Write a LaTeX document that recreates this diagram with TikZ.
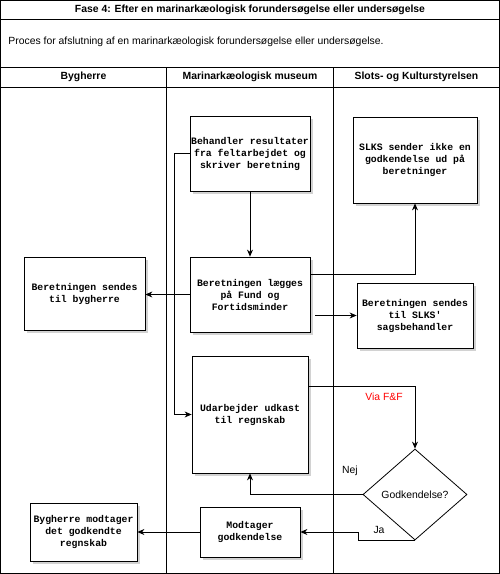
\documentclass[tikz,border=0pt]{standalone}
\usepackage{fontspec}
\setmainfont{Liberation Sans}
\newfontfamily\boxfont{Liberation Mono}
\usetikzlibrary{shapes.geometric,shadows,arrows.meta}

\begin{document}
\begin{tikzpicture}[x=1pt,y=-1pt,line width=0.8pt,
	box/.style={draw=black,fill=white,align=center,inner sep=0pt,
		font=\boxfont\bfseries\fontsize{9.8}{12}\selectfont,
		drop shadow={shadow xshift=2.5pt,shadow yshift=-2.5pt,fill=black!35}},
	pil/.style={-{Stealth[length=7pt,width=6pt]}},
	lbl/.style={inner sep=0pt,font=\fontsize{10.4}{12}\selectfont},
	head/.style={inner sep=0pt,font=\bfseries\fontsize{10.4}{12}\selectfont}]
	\useasboundingbox (0,0) rectangle (500,574);
	% swimlanes
	\draw [black] (0.5,0.5) rectangle (499.5,573.5);
	\draw [black] (0.5,19) -- (499.5,19);
	\draw [black] (0.5,67) -- (499.5,67);
	\draw [black] (0.5,87) -- (499.5,87);
	\draw [black] (166.5,67) -- (166.5,573.5);
	\draw [black] (333.5,67) -- (333.5,573.5);
	\node [head] (titel) at (250,10) {Fase 4: Efter en marinark\ae ologisk forunders\o gelse eller unders\o gelse};
	\node [lbl,anchor=west] (proces) at (8,42) {Proces for afslutning af en marinark\ae ologisk forunders\o gelse eller unders\o gelse.};
	\node [head] (bygherre) at (83.5,77) {Bygherre};
	\node [head] (museum) at (250,77) {Marinark\ae ologisk museum};
	\node [head] (slks) at (416.5,77) {Slots- og Kulturstyrelsen};
	% boxes
	\node [box,minimum width=120pt,minimum height=75pt] (behandl) at (250,153.5) {Behandler resultater\\fra feltarbejdet og\\skriver beretning};
	\node [box,minimum width=120pt,minimum height=75pt] (lag) at (250,294.5) {Beretningen l\ae gges\\p\aa{} Fund og\\Fortidsminder};
	\node [box,minimum width=124pt,minimum height=86pt] (ikke) at (415,160) {SLKS sender ikke en\\godkendelse ud p\aa\\beretninger};
	\node [box,minimum width=116pt,minimum height=65pt] (sagsb) at (415,315.5) {Beretningen sendes\\til SLKS\textquotesingle\\sagsbehandler};
	\node [box,minimum width=121pt,minimum height=73pt] (bygsend) at (84.5,293.5) {Beretningen sendes\\til bygherre};
	\node [box,minimum width=116pt,minimum height=117pt] (udkast) at (250,414.5) {Udarbejder udkast\\til regnskab};
	\node [box,minimum width=100pt,minimum height=50pt] (modt) at (250,532) {Modtager\\godkendelse};
	\node [box,minimum width=107pt,minimum height=58pt] (bygmodt) at (83.5,532) {Bygherre modtager\\det godkendte\\regnskab};
	\node [draw=black,fill=white,diamond,minimum width=104pt,minimum height=91pt,lbl] (godk) at (415,494.5) {Godkendelse?};
	% connectors
	\draw [black,pil] (behandl.south) -- (lag.north);
	\draw [black,pil] ([yshift=20.5pt]lag.east) -| (ikke.south);
	\draw [black,pil] ([xshift=5pt]lag.east |- sagsb.west) -- (sagsb.west);
	\draw [black,pil] (lag.west) -- (lag.west -| bygsend.east);
	\draw [black,pil] (behandl.west) -- ++(-15,0) |- (udkast.west);
	\draw [black,pil] ([yshift=28.5pt]udkast.east) -| (godk.north);
	\draw [black,pil] (godk.west) -| (udkast.south);
	\draw [black,pil] (godk.south) -- ++(-57,0) |- (modt.east);
	\draw [black,pil] (modt.west) -- (bygmodt.east);
	% labels
	\node [lbl,text=red] (viaff) at (384,397) {Via F\&F};
	\node [lbl] (nej) at (350,471) {Nej};
	\node [lbl] (ja) at (379,530) {Ja};
\end{tikzpicture}
\end{document}
